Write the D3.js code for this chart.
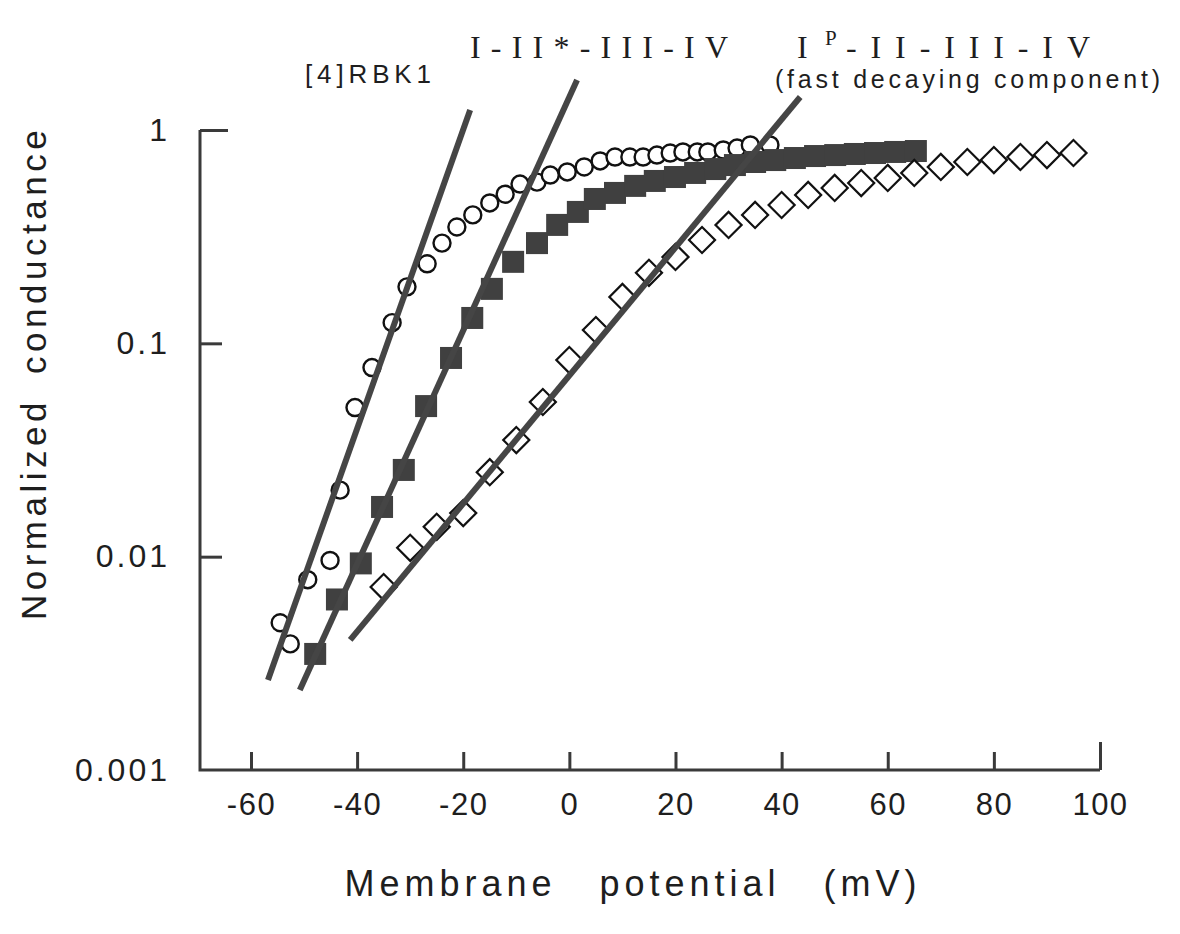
<!DOCTYPE html>
<html>
<head>
<meta charset="utf-8">
<script src="https://cdn.jsdelivr.net/npm/d3@7"></script>
<style>
  body { margin: 0; background: #fff; }
  svg text { fill: #1e1e1e; }
</style>
</head>
<body>
<div id="chart"></div>
<script>
// [4]RBK1 (open circles)
var rbk1V = [-54.5, -52.6, -49.3, -45.1, -43.2, -40.4, -37.2, -33.4, -30.6, -26.8, -24.0, -21.2,
             -18.2, -15.0, -12.1, -9.3, -6.1, -3.6, -0.4, 2.8, 5.8, 8.6, 11.4, 13.9, 16.5, 19.0,
             21.4, 24.1, 26.1, 29.0, 31.6, 34.1, 37.8];
var rbk1G = [0.0049, 0.0039, 0.0078, 0.0096, 0.0205, 0.050, 0.077, 0.125, 0.184, 0.236, 0.295, 0.351,
             0.40, 0.455, 0.50, 0.558, 0.57, 0.615, 0.636, 0.671, 0.716, 0.747, 0.747, 0.747, 0.763, 0.78,
             0.789, 0.789, 0.789, 0.806, 0.823, 0.851, 0.851];

// I-II*-III-IV (filled squares)
var mutV = [-47.9, -43.8, -39.3, -35.3, -31.2, -27.0, -22.3, -18.3, -14.6, -10.6, -6.1, -2.3, 1.6, 4.8,
            8.6, 12.4, 16.1, 19.9, 23.7, 27.5, 31.2, 35.0, 38.8, 42.5, 46.3, 50.1, 53.8, 57.6, 61.4, 65.3];
var mutG = [0.0035, 0.0063, 0.0093, 0.0171, 0.0255, 0.0508, 0.0854, 0.1315, 0.180, 0.241, 0.295, 0.359,
            0.413, 0.475, 0.507, 0.547, 0.577, 0.602, 0.629, 0.656, 0.685, 0.708, 0.723, 0.739, 0.755,
            0.763, 0.772, 0.780, 0.789, 0.797];

// I^P-II-III-IV (open diamonds)
var phosV = [-35, -30, -25, -20, -15, -10, -5, 0, 5, 10, 15, 20, 25, 30, 35, 40, 45, 50, 55, 60, 65,
             70, 75, 80, 85, 90, 95];
var phosG = [0.0072, 0.0110, 0.0138, 0.0160, 0.0249, 0.0352, 0.0531, 0.0835, 0.1155, 0.165, 0.214,
             0.254, 0.305, 0.359, 0.40, 0.445, 0.496, 0.535, 0.564, 0.596, 0.629, 0.671, 0.708, 0.723,
             0.747, 0.763, 0.780];

// fitted lines, end points (mV, conductance)
var fitRbk1 = [[-56.8, 0.00264], [-18.7, 1.24]];
var fitMut = [[-50.8, 0.00237], [1.45, 1.715]];
var fitPhos = [[-41.3, 0.00407], [43.5, 1.428]];

var xTicks = [-60, -40, -20, 0, 20, 40, 60, 80, 100];
var yTicks = [0.001, 0.01, 0.1, 1];
var yTickLabels = ['0.001', '0.01', '0.1', '1'];

var width = 1180,
    height = 934,
    ink = '#3a3a3a',
    sans = '"Liberation Sans", Arial, sans-serif',
    serif = '"Liberation Serif", "Times New Roman", serif';

var svg = d3.select('#chart')
    .append('svg')
    .attr('width', width)
    .attr('height', height)
    .style('font-family', sans);

var x = d3.scaleLinear()
    .domain([-70.55, 100])
    .range([195, 1100]);

var y = d3.scaleLog()
    .domain([0.001, 1])
    .range([770, 130]);

// axes lines
svg.append('path')
    .attr('d', 'M' + (x.range()[0] + 5) + ',' + y(1) + 'V' + y(0.001) + 'H' + x(100))
    .attr('fill', 'none')
    .attr('stroke', ink)
    .attr('stroke-width', 3);

var xAxis = d3.axisBottom(x)
    .tickValues(xTicks)
    .tickSize(-18)
    .tickSizeOuter(0)
    .tickPadding(23)
    .tickFormat(d3.format('d'));

var gx = svg.append('g')
    .attr('transform', 'translate(0,' + y(0.001) + ')')
    .call(xAxis);
gx.select('.domain').remove();
gx.selectAll('.tick line').attr('stroke', ink).attr('stroke-width', 3);
gx.selectAll('.tick line').filter(function (d) { return d === 100; }).attr('y2', -28);
gx.selectAll('.tick text')
    .attr('font-size', 31)
    .attr('font-family', sans)
    .attr('fill', '#1e1e1e')
    .attr('letter-spacing', 1.5)
    .text(function (d) { return d; });

var yAxis = d3.axisLeft(y)
    .tickValues(yTicks)
    .tickSize(-22)
    .tickSizeOuter(0)
    .tickPadding(30)
    .tickFormat(function (d, i) { return yTickLabels[i]; });

var gy = svg.append('g')
    .attr('transform', 'translate(' + (x.range()[0] + 5) + ',0)')
    .call(yAxis);
gy.select('.domain').remove();
gy.selectAll('.tick line').attr('stroke', ink).attr('stroke-width', 3);
gy.selectAll('.tick line').filter(function (d) { return d === 0.001; }).remove();
gy.selectAll('.tick line').filter(function (d) { return d === 1; }).attr('x2', 28);
gy.selectAll('.tick text')
    .attr('font-size', 32)
    .attr('font-family', sans)
    .attr('fill', '#1e1e1e')
    .attr('letter-spacing', 3);

// axis titles
svg.append('text')
    .attr('transform', 'translate(46,373) rotate(-90)')
    .attr('text-anchor', 'middle')
    .attr('font-size', 35)
    .attr('letter-spacing', 4.5)
    .attr('word-spacing', 10)
    .text('Normalized conductance');

svg.append('text')
    .attr('x', 633)
    .attr('y', 896)
    .attr('text-anchor', 'middle')
    .attr('font-size', 36)
    .attr('letter-spacing', 5)
    .attr('word-spacing', 28)
    .text('Membrane potential (mV)');

// data points
var zip = function (vs, gs) {
    return vs.map(function (v, i) { return [v, gs[i]]; });
};

svg.append('g').selectAll('circle')
    .data(zip(rbk1V, rbk1G))
    .enter()
    .append('circle')
    .attr('cx', function (d) { return x(d[0]); })
    .attr('cy', function (d) { return y(d[1]); })
    .attr('r', 8.5)
    .attr('fill', '#fff')
    .attr('stroke', '#111')
    .attr('stroke-width', 2.4);

svg.append('g').selectAll('rect')
    .data(zip(mutV, mutG))
    .enter()
    .append('rect')
    .attr('x', function (d) { return x(d[0]) - 11; })
    .attr('y', function (d) { return y(d[1]) - 11; })
    .attr('width', 22)
    .attr('height', 22)
    .attr('fill', '#404040');

var diamond = d3.symbol().type(d3.symbolSquare).size(340);
svg.append('g').selectAll('path')
    .data(zip(phosV, phosG))
    .enter()
    .append('path')
    .attr('d', diamond)
    .attr('transform', function (d) {
        return 'translate(' + x(d[0]) + ',' + y(d[1]) + ') rotate(45)';
    })
    .attr('fill', '#fff')
    .attr('stroke', '#111')
    .attr('stroke-width', 2.2);

// fitted lines
var line = d3.line()
    .x(function (d) { return x(d[0]); })
    .y(function (d) { return y(d[1]); });

svg.append('g').selectAll('path')
    .data([fitRbk1, fitMut, fitPhos])
    .enter()
    .append('path')
    .attr('d', line)
    .attr('fill', 'none')
    .attr('stroke', '#454545')
    .attr('stroke-width', 6);

// curve labels
svg.append('text')
    .attr('x', 305)
    .attr('y', 83)
    .attr('font-size', 26)
    .attr('textLength', 126)
    .attr('lengthAdjust', 'spacing')
    .text('[4]RBK1');

svg.append('text')
    .attr('x', 470)
    .attr('y', 58)
    .attr('font-family', serif)
    .attr('font-size', 32)
    .attr('textLength', 258)
    .attr('lengthAdjust', 'spacing')
    .text('I-II*-III-IV');

var phosLabel = svg.append('text')
    .attr('x', 797)
    .attr('y', 58)
    .attr('font-family', serif)
    .attr('font-size', 32);
phosLabel.append('tspan').text('I');
phosLabel.append('tspan').attr('x', 825).attr('y', 45).attr('font-size', 21).text('P');
phosLabel.append('tspan').attr('x', 846).attr('y', 58)
    .attr('textLength', 244).attr('lengthAdjust', 'spacing').text('-II-III-IV');

svg.append('text')
    .attr('x', 775)
    .attr('y', 88)
    .attr('font-size', 25)
    .attr('textLength', 385)
    .attr('lengthAdjust', 'spacing')
    .text('(fast decaying component)');
</script>
</body>
</html>
